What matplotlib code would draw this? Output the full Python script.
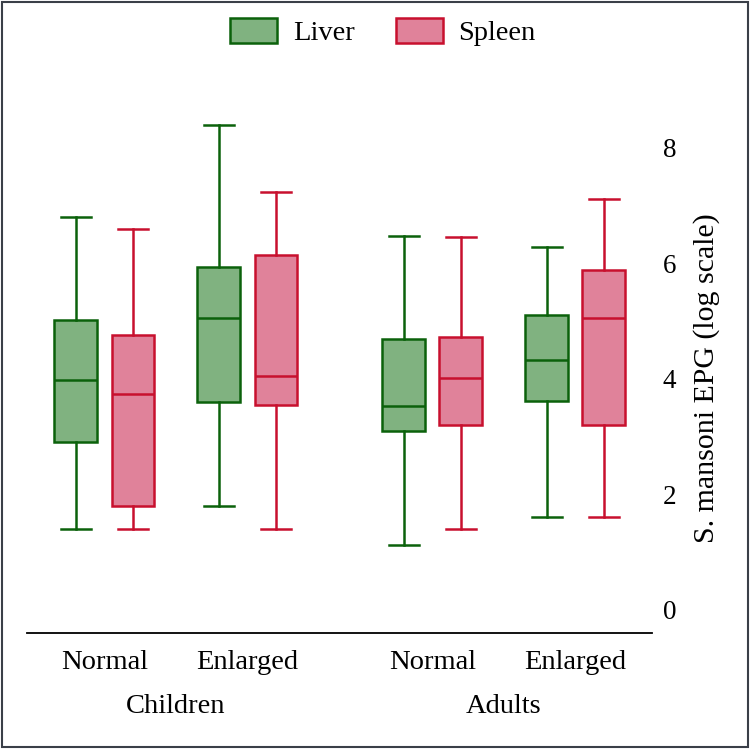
import numpy as np
import matplotlib
matplotlib.use('Agg')
from matplotlib import pyplot as plt
from matplotlib.patches import Patch, Rectangle

plt.rcParams['font.family'] = ['Liberation Serif', 'DejaVu Serif']

groups = ['Children', 'Adults']
conditions = ['Normal', 'Enlarged', 'Normal', 'Enlarged']

# log EPG summary per box (Children Normal, Children Enlarged, Adults Normal, Adults Enlarged)
liver_whislo = [1.40, 1.80, 1.12, 1.60]
liver_q1 = [2.91, 3.60, 3.09, 3.61]
liver_med = [3.98, 5.06, 3.53, 4.32]
liver_q3 = [5.01, 5.93, 4.69, 5.11]
liver_whishi = [6.81, 8.39, 6.48, 6.29]

spleen_whislo = [1.40, 1.40, 1.40, 1.60]
spleen_q1 = [1.80, 3.55, 3.20, 3.20]
spleen_med = [3.74, 4.05, 4.01, 5.06]
spleen_q3 = [4.76, 6.14, 4.73, 5.89]
spleen_whishi = [6.59, 7.24, 6.45, 7.12]

liver_fill, liver_edge = '#80B280', '#0B610B'
spleen_fill, spleen_edge = '#E0829A', '#C8102E'

def MakeStats(lo, q1, med, q3, hi):
	return [dict(whislo=a, q1=b, med=c, q3=d, whishi=e, fliers=[])
		for a, b, c, d, e in zip(lo, q1, med, q3, hi)]

def DrawBoxes(ax, stats, positions, fill, edge):
	lw = 1.8
	ax.bxp(stats, positions=positions, widths=0.30, capwidths=0.21,
		patch_artist=True, showfliers=False,
		boxprops=dict(facecolor=fill, edgecolor=edge, linewidth=lw),
		medianprops=dict(color=edge, linewidth=lw),
		whiskerprops=dict(color=edge, linewidth=lw),
		capprops=dict(color=edge, linewidth=lw))

centers = np.array([1.0, 2.0, 3.294, 4.294])
offset = 0.2

fig = plt.figure(figsize=(7.5, 7.5), dpi=100)
ax = fig.add_axes([0.036, 0.156, 0.833, 0.724])

DrawBoxes(ax, MakeStats(liver_whislo, liver_q1, liver_med, liver_q3, liver_whishi),
	centers - offset, liver_fill, liver_edge)
DrawBoxes(ax, MakeStats(spleen_whislo, spleen_q1, spleen_med, spleen_q3, spleen_whishi),
	centers + offset, spleen_fill, spleen_edge)

ax.set_xlim(0.458, 4.829)
ax.set_ylim(-0.40, 9.0)

for side in ['left', 'right', 'top']:
	ax.spines[side].set_visible(False)
ax.spines['bottom'].set_linewidth(1.3)

ax.set_xticks(centers)
ax.set_xticklabels(conditions, fontsize=20.5)
ax.tick_params(axis='x', length=0, pad=12)

ax.yaxis.tick_right()
ax.set_yticks([0, 2, 4, 6, 8])
ax.tick_params(axis='y', length=0, pad=8, labelsize=19.5)
ax.set_ylabel('S. mansoni EPG (log scale)', fontsize=21.5)
ax.yaxis.set_label_position('right')
ax.yaxis.set_label_coords(1.066, 0.47)

for i, g in enumerate(groups):
	xg = centers[2 * i:2 * i + 2].mean()
	ax.annotate(g, xy=(xg, -0.135), xycoords=('data', 'axes fraction'),
		ha='center', va='center', fontsize=20.5)

handles = [Patch(facecolor=liver_fill, edgecolor=liver_edge, linewidth=1.8, label='Liver'),
	Patch(facecolor=spleen_fill, edgecolor=spleen_edge, linewidth=1.8, label='Spleen')]
fig.legend(handles=handles, loc='center', bbox_to_anchor=(0.5 + 8 / 750, 1 - 32 / 750), ncol=2,
	frameon=False, fontsize=20.5, handlelength=1.65, handleheight=1.0,
	handletextpad=0.55, columnspacing=1.45)

fig.patches.append(Rectangle((0.003, 0.004), 0.994, 0.993, transform=fig.transFigure,
	fill=False, edgecolor='#3a3f48', linewidth=1.5))

fig.savefig('out.png', dpi=100)
